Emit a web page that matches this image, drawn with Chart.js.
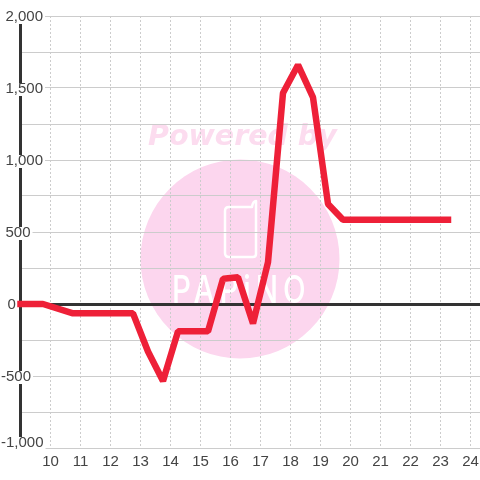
<!DOCTYPE html>
<html>
<head>
<meta charset="utf-8">
<style>
  html, body { margin: 0; padding: 0; background: #fff; }
  canvas { display: block; }
</style>
</head>
<body>
<canvas id="chart" width="480" height="480"></canvas>
<script src="https://cdn.jsdelivr.net/npm/chart.js@4/dist/chart.umd.min.js"></script>
<script>
const hours = [9, 9.75, 10.75, 12.75, 13.25, 13.75, 14.25, 15.25, 15.75, 16.25, 16.75, 17.25, 17.75, 18.25, 18.75, 19.25, 19.75, 23.25];
const values = [0, 0, -65, -65, -330, -535, -190, -190, 175, 185, -135, 290, 1465, 1660, 1435, 695, 585, 585];
const xTicks = [9, 10, 11, 12, 13, 14, 15, 16, 17, 18, 19, 20, 21, 22, 23, 24];
const yLabelled = [2000, 1500, 1000, 500, 0, -500, -1000];

const TEXT = '#444444';
const GRID = '#cccccc';
const AXIS = '#333333';
const RED = '#ee2038';
const PINK = '#fcd6ee';

// the pink logo sits behind the grid
const watermark = {
  id: 'watermark',
  beforeDraw(chart) {
    const c = chart.ctx;
    c.save();
    c.fillStyle = PINK;
    c.beginPath();
    c.arc(240, 259, 99.5, 0, Math.PI * 2);
    c.fill();
    c.fillStyle = '#fcdcef';
    c.font = 'italic bold 28.5px "DejaVu Sans"';
    c.textBaseline = 'alphabetic';
    c.fillText('Powered by', 148, 145);
    // phone
    c.strokeStyle = '#fff';
    c.lineWidth = 2.5;
    c.lineJoin = 'round';
    c.beginPath();
    c.moveTo(229, 207);
    c.lineTo(252, 207);
    c.quadraticCurveTo(253, 201, 256, 201);
    c.lineTo(256, 254);
    c.quadraticCurveTo(256, 257, 253, 257);
    c.lineTo(229, 257);
    c.quadraticCurveTo(225, 257, 225, 253);
    c.lineTo(225, 211);
    c.quadraticCurveTo(225, 207, 229, 207);
    c.stroke();
    // brand name, stretched tall
    c.fillStyle = '#fff';
    c.font = '500 36px Inter';
    c.letterSpacing = '6px';
    c.translate(172, 303);
    c.scale(0.82, 1.05);
    c.fillText('PAPiNO', 0, 0);
    c.restore();
  }
};

// the y labels hang left of the axis with the minus sign sticking out
const labelTweak = {
  id: 'labelTweak',
  beforeDraw(chart) {
    chart.scales.y.getLabelItems(chart.chartArea).forEach(item => {
      const label = item.label;
      const tr = item.options.translation;
      if (!label) { item.options.backdrop = null; return; }
      const w = item.options.backdrop.width;
      if (label[0] === '-') tr[0] -= 4.5;
      if (label === '0') tr[0] += 2;
      if (label === '-1,000') tr[1] -= 6;
      tr[1] += 1;
      // backdrop coordinates are relative to the label's translation
      item.options.backdrop = {
        left: 0, top: -6, width: w + 2, height: 13, color: '#ffffff'
      };
    });
  }
};

new Chart(document.getElementById('chart'), {
  type: 'line',
  data: {
    datasets: [{
      data: hours.map((h, i) => ({ x: h, y: values[i] })),
      borderColor: RED,
      borderWidth: 6.5,
      borderCapStyle: 'square',
      borderJoinStyle: 'bevel',
      pointRadius: 0,
      tension: 0,
      clip: false
    }]
  },
  plugins: [watermark, labelTweak],
  options: {
    responsive: false,
    animation: false,
    events: [],
    layout: { padding: { left: 20.5, top: 16, right: 0, bottom: 0 } },
    plugins: { legend: { display: false }, tooltip: { enabled: false } },
    scales: {
      x: {
        type: 'linear',
        min: 9,
        max: 24.317,
        afterBuildTicks: s => { s.ticks = xTicks.map(v => ({ value: v })); },
        afterFit: s => {
          s.height = 32;
          s.paddingLeft = 0;
          s.paddingRight = 0;
        },
        ticks: {
          color: TEXT,
          font: { family: '"Liberation Sans"', size: 15 },
          padding: 5,
          maxRotation: 0,
          autoSkip: false,
          callback: v => (v === 9 ? '' : String(v))
        },
        grid: { color: GRID, lineWidth: 1, drawTicks: false },
        border: { display: false, dash: [2, 2] }
      },
      y: {
        type: 'linear',
        position: 'left',
        min: -1000,
        max: 2000,
        afterBuildTicks: s => {
          const t = [];
          for (let i = 0; i <= 12; i++) t.push({ value: -1000 + i * 250 });
          s.ticks = t;
        },
        afterFit: s => {
          s.width = 0;
          s.paddingTop = 0;
          s.paddingBottom = 0;
        },
        ticks: {
          mirror: true,
          padding: -15,
          color: TEXT,
          font: { family: '"Liberation Sans"', size: 15 },
          autoSkip: false,
          showLabelBackdrop: true,
          backdropColor: '#ffffff',
          backdropPadding: 0,
          callback: v => (yLabelled.includes(v) ? v.toLocaleString('en-US') : '')
        },
        grid: {
          drawTicks: false,
          lineWidth: ctx => (ctx.tick && ctx.tick.value === 0 ? 3 : 1),
          color: ctx => (ctx.tick && ctx.tick.value === 0 ? AXIS : GRID)
        },
        border: { display: true, color: AXIS, width: 3 }
      }
    }
  }
});
</script>
</body>
</html>
